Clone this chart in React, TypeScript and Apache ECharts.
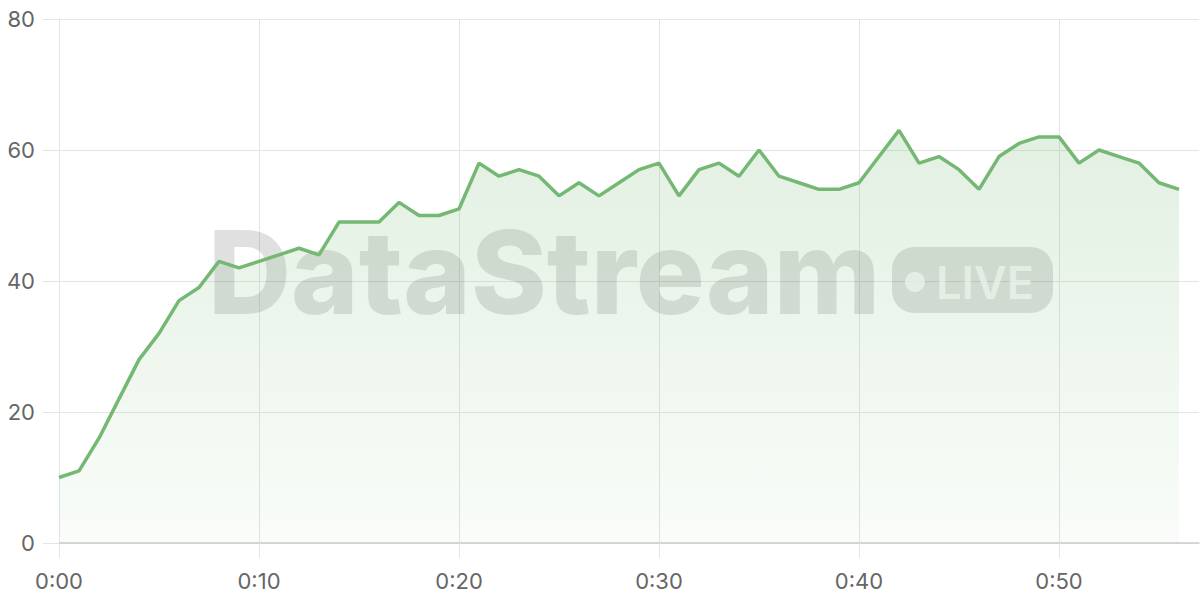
import * as React from "react";
import * as echarts from "echarts";
import { useEffect, useRef } from "react";

// one reading per minute, 0:00 .. 0:56
const values = [
  10, 11, 16, 22, 28, 32, 37, 39, 43, 42,
  43, 44, 45, 44, 49, 49, 49, 52, 50, 50,
  51, 58, 56, 57, 56, 53, 55, 53, 55, 57,
  58, 53, 57, 58, 56, 60, 56, 55, 54, 54,
  55, 59, 63, 58, 59, 57, 54, 59, 61, 62,
  62, 58, 60, 59, 58, 55, 54,
];

// axis runs one minute past the last reading
const minutes = Array.from({ length: values.length + 1 }, (_, i) => i);
const timeLabels = minutes.map((m) => `0:${String(m).padStart(2, "0")}`);

const yTicks = { min: 0, max: 80, step: 20 };

const GRID = "#e4e4e4";

const App = () => {
  const chartRef = useRef<HTMLDivElement>(null);

  useEffect(() => {
    document.body.style.margin = "0";
    if (!chartRef.current) return;
    const chart = echarts.init(chartRef.current, null, { renderer: "svg" });

    const option = {
      animation: false,
      grid: { left: 59, right: 1, top: 19, bottom: 57 },
      xAxis: {
        type: "category",
        data: timeLabels,
        boundaryGap: false,
        axisLine: { lineStyle: { color: "#cccccc", width: 1.5 } },
        axisTick: {
          interval: 9,
          length: 15,
          lineStyle: { color: GRID },
        },
        axisLabel: {
          interval: 9,
          margin: 27,
          fontSize: 22,
          fontFamily: "Inter",
          color: "#666",
        },
        splitLine: { show: true, interval: 9, lineStyle: { color: GRID } },
      },
      yAxis: {
        type: "value",
        min: yTicks.min,
        max: yTicks.max,
        interval: yTicks.step,
        axisLine: { show: true, lineStyle: { color: GRID } },
        axisTick: { show: true, length: 16, lineStyle: { color: GRID } },
        axisLabel: {
          margin: 24,
          fontSize: 22,
          fontFamily: "Inter",
          color: "#666",
        },
        splitLine: { lineStyle: { color: GRID } },
      },
      graphic: [
        {
          type: "text",
          x: 208,
          y: 272,
          z: 1,
          style: {
            text: "DataStream",
            font: "800 115px Inter",
            fill: "rgba(0,0,0,0.12)",
            verticalAlign: "middle",
          },
        },
        {
          type: "rect",
          x: 892,
          y: 247,
          z: 1,
          shape: { width: 161, height: 66, r: 22 },
          style: { fill: "rgba(0,0,0,0.12)" },
        },
        {
          type: "circle",
          x: 915,
          y: 282,
          z: 1,
          shape: { r: 10 },
          style: { fill: "rgba(255,255,255,0.75)" },
        },
        {
          type: "text",
          x: 936,
          y: 282,
          z: 1,
          style: {
            text: "LIVE",
            font: "600 45px Inter",
            fill: "rgba(255,255,255,0.75)",
            verticalAlign: "middle",
          },
        },
      ],
      series: [
        {
          type: "line",
          data: values,
          symbol: "none",
          z: 3,
          lineStyle: { color: "#74b874", width: 3.5 },
          areaStyle: {
            color: new echarts.graphic.LinearGradient(0, 0, 0, 1, [
              { offset: 0, color: "rgba(116,184,116,0.3)" },
              { offset: 1, color: "rgba(116,184,116,0.06)" },
            ]),
            origin: "start",
          },
        },
      ],
    };

    chart.setOption(option as any, true);

    return () => {
      chart.dispose();
    };
  }, []);

  return <div ref={chartRef} style={{ width: 1200, height: 600 }} />;
};

export default App;
